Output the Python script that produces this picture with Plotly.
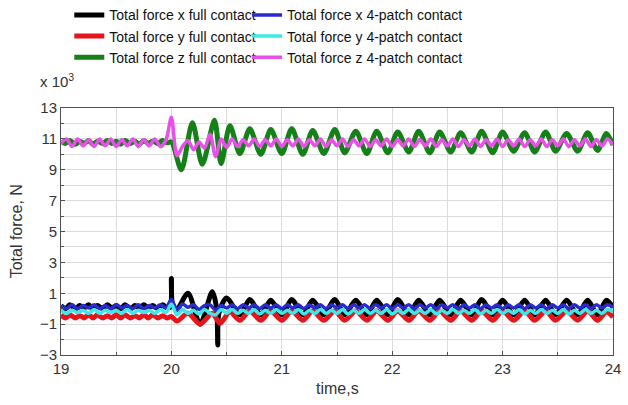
import plotly.graph_objects as go

# ---------------- data ----------------
T_FULL_PRE = [19.00, 19.04, 19.08, 19.13, 19.17, 19.21, 19.25, 19.29, 19.33, 19.38, 19.42, 19.46,
              19.50, 19.54, 19.58, 19.63, 19.67, 19.71, 19.75, 19.79, 19.83, 19.88, 19.92, 19.96]

T_GRID_POST = [20.53, 20.62, 20.71, 20.81, 20.90, 21.00, 21.09, 21.19, 21.28, 21.38, 21.48, 21.57,
               21.67, 21.77, 21.86, 21.96, 22.05, 22.15, 22.24, 22.34, 22.43, 22.53, 22.62, 22.72,
               22.81, 22.91, 23.00, 23.10, 23.20, 23.29, 23.39, 23.48, 23.58, 23.68, 23.77, 23.86,
               23.94, 24.00]

# z full contact (green)
T_Z_FULL = T_FULL_PRE + [20.00, 20.09, 20.19, 20.28, 20.39, 20.45] + T_GRID_POST
Z_FULL = [10.85, 10.70, 10.90, 10.65, 10.85, 10.70, 10.90, 10.65, 10.85, 10.70, 10.90, 10.70,
          10.85, 10.65, 10.90, 10.70, 10.85, 10.65, 10.90, 10.70, 10.85, 10.70, 10.90, 10.75,
          10.80, 9.00, 12.05, 9.35, 12.20, 9.40,
          11.85, 10.05, 11.65, 10.00, 11.60, 10.05, 11.65, 10.00, 11.55, 10.05, 11.60, 10.10,
          11.50, 10.05, 11.50, 10.10, 11.45, 10.15, 11.50, 10.10, 11.45, 10.15, 11.40, 10.15,
          11.50, 10.10, 11.45, 10.20, 11.40, 10.15, 11.45, 10.20, 11.35, 10.20, 11.40, 10.25,
          11.35, 10.60]

# x full contact (black)
T_X_FULL = T_FULL_PRE + [19.99, 20.00, 20.01, 20.05, 20.15, 20.26, 20.37, 20.41, 20.42, 20.43, 20.50] + T_GRID_POST[1:]
X_FULL = [0.20, 0.00, 0.25, 0.00, 0.20, 0.05, 0.25, 0.00, 0.20, 0.00, 0.25, 0.05,
          0.20, 0.00, 0.25, 0.00, 0.20, 0.05, 0.25, 0.05, 0.20, 0.00, 0.25, 0.05,
          0.10, 1.95, 0.30, -0.05, 1.00, -1.00, 1.10, 0.00, -2.35, -0.30, 0.70,
          -0.40, 0.60, -0.40, 0.55, -0.40, 0.60, -0.40, 0.55, -0.40, 0.60, -0.40,
          0.55, -0.40, 0.55, -0.40, 0.60, -0.40, 0.55, -0.40, 0.55, -0.40, 0.55,
          -0.40, 0.60, -0.40, 0.55, -0.40, 0.55, -0.40, 0.55, -0.40, 0.55, -0.40,
          0.55, -0.40, 0.55, 0.10]

# y full contact (red)
T_Y_FULL = T_FULL_PRE + [20.00, 20.05, 20.15, 20.26, 20.37, 20.44] + T_GRID_POST
Y_FULL = [-0.40, -0.60, -0.40, -0.60, -0.45, -0.60, -0.40, -0.60, -0.40, -0.60, -0.45, -0.60,
          -0.40, -0.60, -0.40, -0.60, -0.45, -0.60, -0.40, -0.60, -0.40, -0.60, -0.45, -0.60,
          -0.50, -0.80, -0.30, -1.00, -0.30, -0.95,
          -0.20, -0.75, -0.15, -0.75, -0.15, -0.75, -0.15, -0.75, -0.15, -0.75, -0.15, -0.75,
          -0.15, -0.75, -0.15, -0.75, -0.15, -0.75, -0.15, -0.75, -0.15, -0.75, -0.15, -0.75,
          -0.15, -0.75, -0.15, -0.75, -0.15, -0.75, -0.15, -0.75, -0.15, -0.75, -0.15, -0.75,
          -0.20, -0.55]

# 4-patch contact series share one time grid
T_PATCH = [19.00, 19.05, 19.10, 19.15, 19.20, 19.25, 19.30, 19.35, 19.40, 19.45,
           19.50, 19.55, 19.60, 19.65, 19.70, 19.75, 19.80, 19.85, 19.90, 19.95,
           20.00, 20.05, 20.10, 20.15, 20.20, 20.25, 20.30, 20.35, 20.40, 20.45,
           20.50, 20.55, 20.60, 20.65, 20.70, 20.75, 20.80, 20.85, 20.90, 20.95,
           21.00, 21.05, 21.10, 21.15, 21.20, 21.25, 21.30, 21.35, 21.40, 21.45,
           21.50, 21.55, 21.60, 21.65, 21.70, 21.75, 21.80, 21.85, 21.90, 21.95,
           22.00, 22.05, 22.10, 22.15, 22.20, 22.25, 22.30, 22.35, 22.40, 22.45,
           22.50, 22.55, 22.60, 22.65, 22.70, 22.75, 22.80, 22.85, 22.90, 22.95,
           23.00, 23.05, 23.10, 23.15, 23.20, 23.25, 23.30, 23.35, 23.40, 23.45,
           23.50, 23.55, 23.60, 23.65, 23.70, 23.75, 23.80, 23.85, 23.90, 23.95,
           24.00]

X_PATCH = [0.20, 0.00, 0.25, 0.00, 0.20, 0.05, 0.25, 0.00, 0.20, 0.00,
           0.25, 0.05, 0.20, 0.00, 0.25, 0.00, 0.20, 0.05, 0.25, 0.05,
           0.60, -0.10, 0.30, 0.10, 0.25, -0.05, 0.20, 0.25, -0.10, 0.20,
           0.05, 0.25, 0.00, 0.25, 0.05, 0.25, 0.00, 0.25, 0.05, 0.25,
           0.00, 0.25, 0.05, 0.25, 0.00, 0.25, 0.05, 0.25, 0.00, 0.25,
           0.05, 0.25, 0.00, 0.25, 0.05, 0.25, 0.00, 0.25, 0.05, 0.25,
           0.00, 0.25, 0.05, 0.25, 0.00, 0.25, 0.05, 0.25, 0.00, 0.25,
           0.05, 0.25, 0.00, 0.25, 0.05, 0.25, 0.00, 0.25, 0.05, 0.25,
           0.00, 0.25, 0.05, 0.25, 0.00, 0.25, 0.05, 0.25, 0.00, 0.25,
           0.05, 0.25, 0.00, 0.25, 0.05, 0.25, 0.00, 0.25, 0.05, 0.25,
           0.10]

Y_PATCH = [-0.10, -0.30, -0.10, -0.25, -0.10, -0.30, -0.05, -0.30, -0.10, -0.25,
           -0.10, -0.30, -0.05, -0.30, -0.10, -0.25, -0.10, -0.30, -0.05, -0.25,
           0.30, -0.40, -0.05, -0.30, -0.10, -0.35, -0.05, -0.30, -0.40, -0.05,
           -0.30, -0.05, -0.30, -0.10, -0.30, -0.05, -0.35, -0.10, -0.30, -0.05,
           -0.30, -0.10, -0.30, -0.05, -0.35, -0.10, -0.30, -0.05, -0.30, -0.10,
           -0.30, -0.05, -0.35, -0.10, -0.30, -0.05, -0.30, -0.10, -0.30, -0.05,
           -0.35, -0.10, -0.30, -0.05, -0.30, -0.10, -0.30, -0.05, -0.35, -0.10,
           -0.30, -0.05, -0.30, -0.10, -0.30, -0.05, -0.35, -0.10, -0.30, -0.05,
           -0.30, -0.10, -0.30, -0.05, -0.35, -0.10, -0.30, -0.05, -0.30, -0.10,
           -0.30, -0.05, -0.35, -0.10, -0.30, -0.05, -0.30, -0.10, -0.30, -0.05,
           -0.20]

Z_PATCH = [10.70, 11.00, 10.50, 11.00, 10.55, 10.95, 10.50, 11.00, 10.55, 11.00,
           10.50, 10.95, 10.55, 11.00, 10.50, 10.95, 10.55, 11.00, 10.50, 10.90,
           12.40, 9.90, 10.50, 10.90, 10.30, 10.80, 10.40, 11.30, 9.85, 11.00,
           10.45, 11.00, 10.50, 10.95, 10.55, 11.00, 10.50, 10.95, 10.55, 11.00,
           10.50, 10.95, 10.55, 11.00, 10.50, 10.95, 10.55, 11.00, 10.50, 10.95,
           10.55, 11.00, 10.50, 10.95, 10.55, 11.00, 10.50, 10.95, 10.55, 11.00,
           10.50, 10.95, 10.55, 11.00, 10.50, 10.95, 10.55, 11.00, 10.50, 10.95,
           10.55, 11.00, 10.50, 10.95, 10.55, 11.00, 10.50, 10.95, 10.55, 11.00,
           10.50, 10.95, 10.55, 11.00, 10.50, 10.95, 10.55, 11.00, 10.50, 10.95,
           10.55, 11.00, 10.50, 10.95, 10.55, 11.00, 10.50, 10.95, 10.55, 11.00,
           10.60]

X_TICKS = [19, 20, 21, 22, 23, 24]
Y_TICKS = [-3, -1, 1, 3, 5, 7, 9, 11, 13]

# ---------------- figure ----------------
FONT = "Liberation Sans, Arial, sans-serif"
fig = go.Figure()

full_series = [
    ("Total force x full contact", T_X_FULL, X_FULL, "#000000"),
    ("Total force y full contact", T_Y_FULL, Y_FULL, "#e8141c"),
    ("Total force z full contact", T_Z_FULL, Z_FULL, "#168018"),
]
patch_series = [
    ("Total force x 4-patch contact", T_PATCH, X_PATCH, "#2a2ad0"),
    ("Total force y 4-patch contact", T_PATCH, Y_PATCH, "#3ee8e8"),
    ("Total force z 4-patch contact", T_PATCH, Z_PATCH, "#e850e8"),
]

for name, t, v, c in full_series:
    fig.add_trace(go.Scatter(x=t, y=v, name=name, mode="lines", legend="legend",
                             line=dict(color=c, width=5, shape="spline", smoothing=0.8)))
for name, t, v, c in patch_series:
    fig.add_trace(go.Scatter(x=t, y=v, name=name, mode="lines", legend="legend2",
                             line=dict(color=c, width=3.5, shape="spline", smoothing=0.8)))

axis_common = dict(showline=True, mirror=True, linecolor="#505050", linewidth=1,
                   ticks="inside", ticklen=4, tickcolor="#505050",
                   showgrid=True, gridcolor="#dcdcdc", gridwidth=1, zeroline=False,
                   tickfont=dict(family=FONT, size=15, color="#333333"))

fig.update_xaxes(range=[19, 24], tickvals=X_TICKS,
                 minor=dict(dtick=0.5, showgrid=True, gridcolor="#dcdcdc",
                            ticks="inside", ticklen=3, tickcolor="#505050"),
                 **axis_common)
fig.update_yaxes(range=[-3, 13], tickvals=Y_TICKS,
                 minor=dict(dtick=1, showgrid=True, gridcolor="#dcdcdc",
                            ticks="inside", ticklen=3, tickcolor="#505050"),
                 **axis_common)

legend_common = dict(bgcolor="rgba(255,255,255,0)", borderwidth=0, yanchor="top",
                     font=dict(family=FONT, size=14, color="#111111"),
                     tracegroupgap=0, itemwidth=30, orientation="v")

fig.update_layout(
    width=628, height=405,
    margin=dict(l=61, r=15, t=108, b=50, autoexpand=False),
    plot_bgcolor="white", paper_bgcolor="white",
    showlegend=True,
    legend=dict(x=0.015, y=1.44, xanchor="left", **legend_common),
    legend2=dict(x=0.337, y=1.44, xanchor="left", **legend_common),
    annotations=[
        dict(text="x 10<sup>3</sup>", x=-0.042, y=1.11, xref="paper", yref="paper",
             xanchor="left", yanchor="middle", showarrow=False,
             font=dict(family=FONT, size=15, color="#333333")),
        dict(text="Total force, N", x=-0.08, y=0.5, xref="paper", yref="paper",
             xanchor="center", yanchor="middle", textangle=-90, showarrow=False,
             font=dict(family=FONT, size=16, color="#333333")),
        dict(text="time,s", x=0.5, y=-0.134, xref="paper", yref="paper",
             xanchor="center", yanchor="middle", showarrow=False,
             font=dict(family=FONT, size=16, color="#333333")),
    ],
)

fig.write_html("out.html")
